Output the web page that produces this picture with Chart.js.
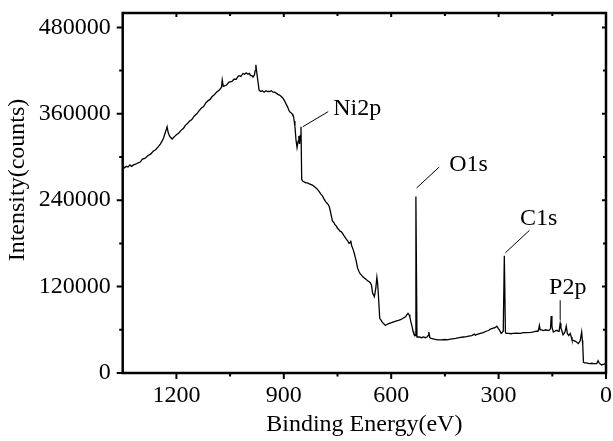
<!DOCTYPE html>
<html>
<head>
<meta charset="utf-8">
<script src="https://cdn.jsdelivr.net/npm/chart.js@4.4.0/dist/chart.umd.min.js"></script>
<style>
  html, body { margin: 0; padding: 0; background: #fff; }
  #wrap { width: 613px; height: 441px; position: relative; }
</style>
</head>
<body>
<div id="wrap"><canvas id="c" width="613" height="441"></canvas></div>
<script>
// Binding energy (eV) and intensity (counts), 10 per row
const energy = [
  1350, 1345, 1340, 1335, 1330, 1325, 1320, 1314, 1307, 1301,
  1295, 1288, 1279, 1272, 1265, 1258, 1251, 1245, 1240, 1236,
  1233, 1229, 1226, 1223, 1219, 1216, 1212, 1208, 1204, 1200,
  1194, 1187, 1180, 1175, 1170, 1163, 1157, 1150, 1143, 1137,
  1130, 1124, 1118, 1112, 1106, 1100, 1095, 1088, 1080, 1074,
  1072, 1069, 1064, 1060, 1053, 1045, 1039, 1033, 1028, 1025,
  1020, 1014, 1009, 1005, 1000, 996, 993, 989, 986, 982,
  980, 978, 975, 973, 969, 964, 960, 955, 950, 945,
  940, 935, 930, 926, 922, 917, 912, 907, 903, 899,
  896, 892, 889, 885, 882, 879, 877, 875, 873, 871,
  869, 866, 863, 860, 858, 856, 854, 852, 850, 848,
  845, 842, 838, 834, 830, 825, 820, 815, 810, 806,
  801, 796, 792, 787, 783, 780, 776, 773, 770, 768,
  764, 760, 757, 753, 750, 746, 743, 739, 736, 731,
  727, 722, 718, 715, 713, 711, 709, 706, 703, 700,
  698, 694, 690, 687, 683, 680, 675, 670, 666, 662,
  658, 655, 652, 647, 643, 640, 638, 636, 632, 628,
  624, 620, 616, 610, 605, 599, 593, 587, 580, 574,
  567, 560, 556, 553, 550, 548, 545, 542, 539, 537,
  533, 531, 528, 522, 515, 510, 505, 500, 497, 495,
  492, 488, 480, 470, 460, 450, 444, 435, 428, 420,
  410, 398, 390, 380, 375, 368, 365, 360, 351, 343,
  335, 328, 323, 317, 310, 305, 301, 298, 293, 289,
  287, 284, 281, 279, 272, 265, 260, 250, 240, 230,
  220, 210, 202, 195, 190, 188, 186, 184, 180, 175,
  168, 161, 157, 155, 153, 151, 150, 147, 143, 140,
  136, 133, 131, 128, 126, 124, 120, 117, 114, 111,
  108, 104, 100, 97, 95, 90, 85, 80, 77, 72,
  68, 66, 65, 63, 60, 55, 50, 45, 40, 35,
  30, 26, 22, 19, 15, 12, 9, 6, 2, 0
];
const intensity = [
  287000, 285000, 287000, 286000, 289000, 287000, 289000, 290000, 292000, 293000,
  297000, 298000, 302000, 304000, 308000, 310000, 314000, 318000, 322000, 326000,
  331000, 337000, 342000, 334000, 329000, 327000, 325000, 327000, 329000, 331000,
  333000, 337000, 340000, 344000, 346000, 350000, 352000, 357000, 360000, 364000,
  368000, 370000, 375000, 378000, 380000, 384000, 386000, 390000, 393000, 397000,
  407000, 398000, 399000, 400000, 404000, 405000, 408000, 408000, 412000, 413000,
  412000, 416000, 415000, 417000, 415000, 416000, 413000, 413000, 411000, 414000,
  420000, 428000, 415000, 408000, 393000, 391000, 392000, 390000, 392000, 391000,
  391000, 392000, 390000, 390000, 389000, 387000, 386000, 384000, 382000, 379000,
  376000, 372000, 369000, 364000, 362000, 361000, 360000, 358000, 357000, 350000,
  343000, 324000, 313000, 322000, 329000, 318000, 330000, 342000, 269000, 267000,
  266000, 265000, 264000, 264000, 263000, 262000, 261000, 259000, 257000, 255000,
  252000, 248000, 246000, 241000, 238000, 236000, 234000, 231000, 225000, 220000,
  211000, 209000, 206000, 204000, 201000, 199000, 197000, 196000, 194000, 190000,
  187000, 184000, 180000, 181000, 184000, 178000, 175000, 171000, 166000, 160000,
  156000, 146000, 141000, 138000, 136000, 134000, 132000, 130000, 128000, 127000,
  125000, 122000, 111000, 106000, 118000, 133000, 125000, 110000, 76000, 73000,
  70000, 68000, 66000, 68000, 69000, 70000, 71000, 72000, 73000, 74000,
  76000, 78000, 81000, 83000, 81000, 78000, 71000, 65000, 58000, 55000,
  52000, 245000, 50000, 50000, 49000, 50000, 49000, 50000, 52000, 57000,
  49000, 48000, 47000, 46000, 46000, 46500, 46000, 47000, 47500, 48000,
  49000, 50000, 50500, 51500, 52000, 54000, 52500, 53500, 55000, 56000,
  58000, 59000, 61000, 62000, 63000, 65000, 62000, 60000, 55000, 57000,
  58000, 163000, 57000, 55000, 55000, 54500, 55000, 55500, 55000, 56000,
  56000, 56500, 57000, 58000, 58000, 61000, 66000, 60000, 60000, 59000,
  60000, 59000, 60000, 62000, 79000, 65000, 62000, 57000, 58000, 59000,
  59000, 58000, 58000, 69000, 62000, 60000, 53000, 55000, 58000, 65000,
  55000, 52000, 55000, 50000, 46000, 45000, 44000, 42000, 41000, 45000,
  57000, 45000, 40000, 15000, 14000, 14000, 13500, 13000, 13500, 13000,
  13000, 13000, 17000, 14000, 12000, 11000, 12000, 12000, 13000, 13000
];
const xTicks = [0, 300, 600, 900, 1200];
const xMinor = [150, 450, 750, 1050];
const yTicks = [0, 120000, 240000, 360000, 480000];
const yMinor = [60000, 180000, 300000, 420000];
const xTitle = 'Binding Energy(eV)';
const yTitle = 'Intensity(counts)';
// peak labels: text anchor (eV, counts) and leader line ends
const peakNames = ['Ni2p', 'O1s', 'C1s', 'P2p'];
const peakTextAt = [[762, 367000], [438, 289000], [240, 214000], [159, 118000]];
const peakLineFrom = [[847, 342000], [529, 257000], [281, 167000], [128, 74000]];
const peakLineTo = [[776, 363000], [466, 286000], [214, 198000], [128, 101000]];

const FONT = '"Liberation Serif", "Times New Roman", serif';

const decor = {
  id: 'decor',
  afterDraw(chart) {
    const ctx = chart.ctx, a = chart.chartArea;
    const xs = chart.scales.x, ys = chart.scales.y;
    ctx.save();
    ctx.strokeStyle = '#000';
    ctx.fillStyle = '#000';
    // frame
    ctx.lineWidth = 2.5;
    ctx.strokeRect(a.left, a.top, a.right - a.left, a.bottom - a.top);
    // ticks
    ctx.lineWidth = 2;
    ctx.beginPath();
    xTicks.forEach(v => { const p = xs.getPixelForValue(v);
      ctx.moveTo(p, a.bottom); ctx.lineTo(p, a.bottom + 6);
      ctx.moveTo(p, a.top); ctx.lineTo(p, a.top + 4); });
    xMinor.forEach(v => { const p = xs.getPixelForValue(v);
      ctx.moveTo(p, a.bottom); ctx.lineTo(p, a.bottom + 3.5);
      ctx.moveTo(p, a.top); ctx.lineTo(p, a.top + 3); });
    yTicks.forEach(v => { const p = ys.getPixelForValue(v);
      ctx.moveTo(a.left, p); ctx.lineTo(a.left - 6, p);
      ctx.moveTo(a.right, p); ctx.lineTo(a.right - 4, p); });
    yMinor.forEach(v => { const p = ys.getPixelForValue(v);
      ctx.moveTo(a.left, p); ctx.lineTo(a.left - 3.5, p);
      ctx.moveTo(a.right, p); ctx.lineTo(a.right - 3, p); });
    ctx.stroke();
    // peak annotations
    ctx.lineWidth = 1;
    ctx.font = '24px ' + FONT;
    ctx.textAlign = 'left';
    ctx.textBaseline = 'middle';
    peakNames.forEach((n, i) => {
      ctx.beginPath();
      ctx.moveTo(xs.getPixelForValue(peakLineFrom[i][0]), ys.getPixelForValue(peakLineFrom[i][1]));
      ctx.lineTo(xs.getPixelForValue(peakLineTo[i][0]), ys.getPixelForValue(peakLineTo[i][1]));
      ctx.stroke();
      ctx.fillText(n, xs.getPixelForValue(peakTextAt[i][0]), ys.getPixelForValue(peakTextAt[i][1]));
    });
    // axis titles
    ctx.textAlign = 'center';
    ctx.fillText(xTitle, (a.left + a.right) / 2, 425);
    ctx.translate(18, 180);
    ctx.rotate(-Math.PI / 2);
    ctx.fillText(yTitle, 0, 0);
    ctx.restore();
  }
};

new Chart(document.getElementById('c'), {
  type: 'line',
  data: {
    datasets: [{
      data: energy.map((e, i) => ({ x: e, y: intensity[i] })),
      borderColor: '#000',
      borderWidth: 1.3,
      pointRadius: 0,
      tension: 0,
      fill: false
    }]
  },
  options: {
    responsive: false,
    animation: false,
    events: [],
    layout: { padding: { top: 13, right: 7, left: 0, bottom: 0 } },
    plugins: { legend: { display: false }, tooltip: { enabled: false } },
    scales: {
      x: {
        type: 'linear', reverse: true, min: 0, max: 1350,
        grid: { display: false, drawTicks: false },
        border: { display: false },
        afterBuildTicks: s => { s.ticks = xTicks.map(v => ({ value: v })); },
        afterFit: s => { s.height = 68; s.paddingLeft = 0; s.paddingRight = 0; },
        ticks: { color: '#000', font: { family: FONT, size: 24 }, padding: 8, maxRotation: 0,
          callback: v => String(v) }
      },
      y: {
        type: 'linear', min: 0, max: 500000,
        grid: { display: false, drawTicks: false },
        border: { display: false },
        afterBuildTicks: s => { s.ticks = yTicks.map(v => ({ value: v })); },
        afterFit: s => { s.width = 122.7; s.paddingTop = 0; s.paddingBottom = 0; },
        ticks: { color: '#000', font: { family: FONT, size: 24 }, padding: 12,
          callback: v => String(v) }
      }
    }
  },
  plugins: [decor]
});
</script>
</body>
</html>
